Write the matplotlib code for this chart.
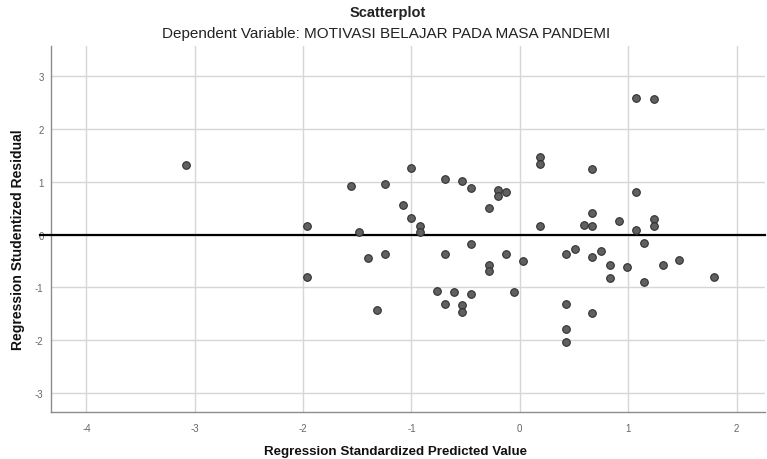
import matplotlib
matplotlib.use('Agg')
import matplotlib.pyplot as plt
import matplotlib.transforms as mtransforms

plt.rcParams['font.family'] = ['Liberation Sans', 'DejaVu Sans']
plt.rcParams['axes.unicode_minus'] = False

# regression standardized predicted value
pred = [-3.08, -1.96, -1.96, -1.56, -1.24, -1.48, -1.40, -1.24, -1.32, -1.08,
        -1.00, -1.00, -0.92, -0.92, -0.69, -0.53, -0.45, -0.45, -0.69, -0.76,
        -0.61, -0.45, -0.69, -0.53, -0.53, -0.28, -0.20, -0.13, -0.20, -0.13,
        -0.28, -0.28, -0.05, 0.03, 0.19, 0.19, 0.19, 0.43, 0.51, 0.43,
        0.43, 0.43, 0.59, 0.67, 0.67, 0.67, 0.67, 0.67, 0.75, 0.83,
        0.83, 0.92, 0.99, 1.07, 1.24, 1.07, 1.07, 1.24, 1.24, 1.15,
        1.15, 1.32, 1.47, 1.79]
# regression studentized residual
resid = [1.32, 0.16, -0.81, 0.91, 0.95, 0.05, -0.45, -0.37, -1.43, 0.56,
         1.26, 0.31, 0.17, 0.05, 1.06, 1.02, 0.88, -0.18, -0.37, -1.06,
         -1.09, -1.12, -1.31, -1.34, -1.47, 0.51, 0.85, 0.81, 0.73, -0.37,
         -0.57, -0.69, -1.09, -0.51, 1.47, 1.34, 0.16, -0.37, -0.27, -1.32,
         -1.79, -2.04, 0.19, 1.24, 0.41, 0.17, -0.42, -1.49, -0.32, -0.57,
         -0.82, 0.25, -0.61, 2.59, 2.57, 0.80, 0.09, 0.30, 0.17, -0.16,
         -0.89, -0.57, -0.49, -0.80]

xticks = [-4, -3, -2, -1, 0, 1, 2]
yticks = [-3, -2, -1, 0, 1, 2, 3]

fig = plt.figure(figsize=(7.67, 4.6), dpi=100)
ax = fig.add_axes([0.066, 0.102, 0.931, 0.796])

ax.set_xlim(-4.33, 2.26)
ax.set_ylim(-3.36, 3.57)
ax.set_xticks(xticks)
ax.set_yticks(yticks)
ax.grid(True, color='#d6d6d6', linewidth=1.0)
ax.set_axisbelow(True)
ax.tick_params(axis='x', length=0, labelsize=7, labelcolor='#666666', pad=8)
ax.tick_params(axis='y', length=0, labelsize=7, labelcolor='#666666', pad=5)

for side in ['top', 'right']:
    ax.spines[side].set_visible(False)
for side in ['left', 'bottom']:
    ax.spines[side].set_color('#8c8c8c')
    ax.spines[side].set_linewidth(1.0)

# reference line at zero, runs slightly past the left axis
trans = mtransforms.blended_transform_factory(ax.transAxes, ax.transData)
ax.plot([-0.015, 1.0], [0, 0], color='black', linewidth=1.6, transform=trans, clip_on=False, zorder=3)

ax.scatter(pred, resid, s=30, color='#606060', edgecolor='#303030', linewidth=0.8, zorder=4)

fig.text(0.516, 0.017, 'Regression Standardized Predicted Value', ha='center', va='center',
         fontsize=9.6, fontweight='bold', color='#111111')
fig.text(0.0235, 0.48, 'Regression Studentized Residual', ha='center', va='center', rotation=90,
         fontsize=10, fontweight='bold', color='#111111')

fig.text(0.505, 0.972, 'Scatterplot', ha='center', va='center', fontsize=10.5, fontweight='bold', color='#222222')
fig.text(0.503, 0.926, 'Dependent Variable: MOTIVASI BELAJAR PADA MASA PANDEMI', ha='center', va='center',
         fontsize=11, color='#222222')

plt.savefig('out.png', dpi=100)
